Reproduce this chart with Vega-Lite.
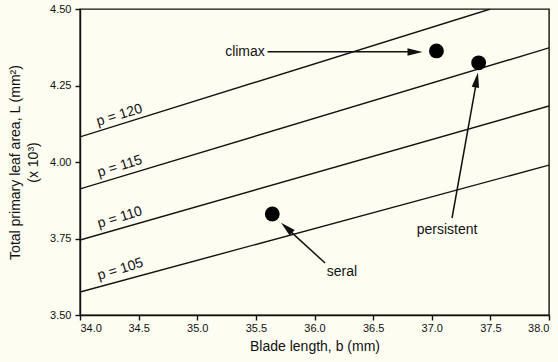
{
  "$schema": "https://vega.github.io/schema/vega-lite/v6.json",
  "width": 469,
  "height": 306,
  "autosize": {"type": "none"},
  "padding": {"left": 80, "top": 9, "right": 9, "bottom": 47},
  "background": "#fdfdf1",
  "config": {
    "font": "Liberation Sans",
    "view": {"stroke": "#111111", "strokeWidth": 1.4},
    "axis": {"grid": false, "domainColor": "#111111", "domainWidth": 1.4, "tickColor": "#111111", "tickWidth": 1.4, "tickSize": 5, "labelFont": "Liberation Sans", "labelFontSize": 11, "labelColor": "#111111", "titleFont": "Liberation Sans", "titleFontSize": 14, "titleFontWeight": "normal", "titleColor": "#111111"}
  },
  "datasets": {
    "lines": [
      {"p": "120", "x": 34.0, "y": 4.082}, {"p": "120", "x": 37.5, "y": 4.5},
      {"p": "115", "x": 34.0, "y": 3.912}, {"p": "115", "x": 38.0, "y": 4.373},
      {"p": "110", "x": 34.0, "y": 3.745}, {"p": "110", "x": 38.0, "y": 4.183},
      {"p": "105", "x": 34.0, "y": 3.575}, {"p": "105", "x": 38.0, "y": 3.99}
    ],
    "labels": [
      {"label": "p = 120", "x": 34.154, "y": 4.118},
      {"label": "p = 115", "x": 34.162, "y": 3.951},
      {"label": "p = 110", "x": 34.162, "y": 3.784},
      {"label": "p = 105", "x": 34.162, "y": 3.614}
    ],
    "points": [
      {"name": "climax", "x": 37.04, "y": 4.363},
      {"name": "persistent", "x": 37.40, "y": 4.324},
      {"name": "seral", "x": 35.64, "y": 3.83}
    ],
    "arrows": [
      {"name": "climax", "x": 35.60, "y": 4.36, "x2": 36.87, "y2": 4.36},
      {"name": "persistent", "x": 37.173, "y": 3.817, "x2": 37.385, "y2": 4.27},
      {"name": "seral", "x": 36.09, "y": 3.67, "x2": 35.755, "y2": 3.787}
    ],
    "heads": [
      {"name": "climax", "x": 36.857, "y": 4.3595},
      {"name": "persistent", "x": 37.383, "y": 4.268},
      {"name": "seral", "x": 35.762, "y": 3.785}
    ],
    "annotations": [
      {"text": "climax", "x": 35.407, "y": 4.36},
      {"text": "persistent", "x": 37.13, "y": 3.778},
      {"text": "seral", "x": 36.234, "y": 3.641}
    ]
  },
  "encoding": {
    "x": {
      "field": "x", "type": "quantitative",
      "scale": {"domain": [34, 38], "nice": false, "zero": false},
      "axis": {"values": [34, 34.5, 35, 35.5, 36, 36.5, 37, 37.5, 38], "format": ".1f", "labelPadding": 2, "title": "Blade length, b (mm)", "titlePadding": 6}
    },
    "y": {
      "field": "y", "type": "quantitative",
      "scale": {"domain": [3.5, 4.5], "nice": false, "zero": false},
      "axis": {"values": [3.5, 3.75, 4, 4.25, 4.5], "format": ".2f", "labelPadding": 4, "title": ["Total primary leaf area, L (mm²)", "(x 10³)"], "titleX": -58, "titleY": 153, "titleAlign": "center", "titleAngle": -90, "titleLineHeight": 18}
    }
  },
  "layer": [
    {
      "data": {"name": "lines"},
      "mark": {"type": "line", "color": "#111111", "strokeWidth": 1.4, "clip": true},
      "encoding": {"detail": {"field": "p", "type": "nominal"}}
    },
    {
      "data": {"name": "labels"},
      "mark": {"type": "text", "align": "left", "baseline": "alphabetic", "angle": -17, "fontSize": 14, "color": "#111111"},
      "encoding": {"text": {"field": "label", "type": "nominal"}}
    },
    {
      "data": {"name": "points"},
      "mark": {"type": "point", "shape": "circle", "filled": true, "size": 220, "color": "#000000", "opacity": 1}
    },
    {
      "data": {"name": "arrows"},
      "mark": {"type": "rule", "color": "#111111", "strokeWidth": 1.5},
      "encoding": {"x2": {"field": "x2"}, "y2": {"field": "y2"}}
    },
    {
      "data": {"name": "heads"},
      "transform": [{"filter": "datum.name === 'climax'"}],
      "mark": {"type": "point", "shape": "M0,-1L0.5,1L-0.5,1Z", "filled": true, "size": 225, "angle": 90, "color": "#111111", "opacity": 1}
    },
    {
      "data": {"name": "heads"},
      "transform": [{"filter": "datum.name === 'persistent'"}],
      "mark": {"type": "point", "shape": "M0,-1L0.5,1L-0.5,1Z", "filled": true, "size": 225, "angle": 10, "color": "#111111", "opacity": 1}
    },
    {
      "data": {"name": "heads"},
      "transform": [{"filter": "datum.name === 'seral'"}],
      "mark": {"type": "point", "shape": "M0,-1L0.5,1L-0.5,1Z", "filled": true, "size": 225, "angle": -48, "color": "#111111", "opacity": 1}
    },
    {
      "data": {"name": "annotations"},
      "mark": {"type": "text", "align": "center", "baseline": "middle", "fontSize": 14, "color": "#111111"},
      "encoding": {"text": {"field": "text", "type": "nominal"}}
    }
  ]
}
